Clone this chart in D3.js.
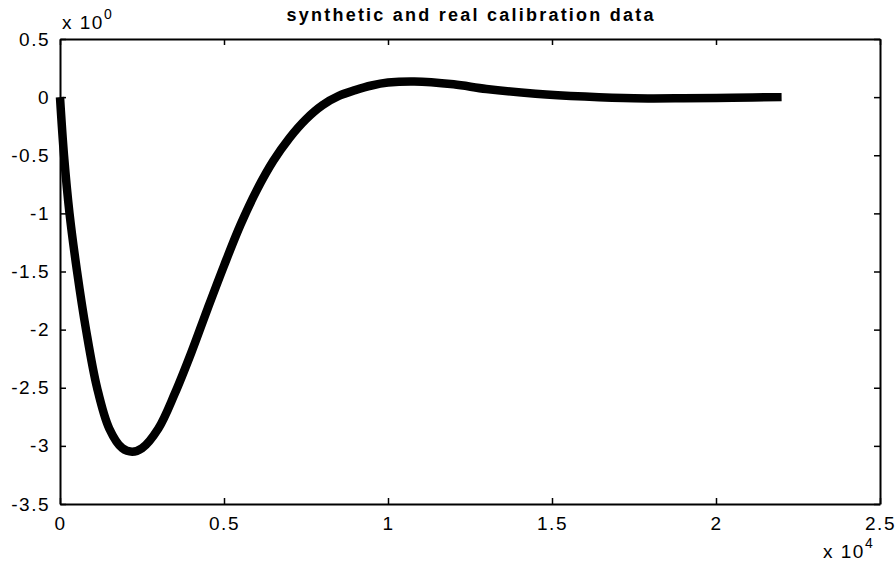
<!DOCTYPE html>
<html>
<head>
<meta charset="utf-8">
<script src="https://cdn.jsdelivr.net/npm/d3@7"></script>
<style>
  body { margin: 0; background: #fff; }
  svg text { font-family: Arial, "Liberation Sans", sans-serif; fill: #000; }
</style>
</head>
<body>
<div id="chart"></div>
<script>
// x values are in units of 10^4, y in units of 10^0
var xVals = [0, 0.0122, 0.029, 0.052, 0.0793, 0.113, 0.15, 0.19, 0.22, 0.25, 0.30,
             0.35, 0.40, 0.45, 0.50, 0.55, 0.60, 0.65, 0.70, 0.75, 0.80, 0.85,
             0.90, 0.95, 1.0, 1.08, 1.2, 1.3, 1.45, 1.6, 1.75, 1.9, 2.05, 2.2];
var yVals = [0, -0.5, -1.0, -1.5, -2.0, -2.5, -2.85, -3.02, -3.05, -3.02, -2.85,
             -2.55, -2.2, -1.82, -1.45, -1.1, -0.8, -0.55, -0.35, -0.19, -0.07, 0.01,
             0.06, 0.1, 0.125, 0.135, 0.11, 0.07, 0.03, 0.005, -0.01, -0.01, -0.005, 0];
var xTicks = [0, 0.5, 1, 1.5, 2, 2.5];
var yTicks = [0.5, 0, -0.5, -1, -1.5, -2, -2.5, -3, -3.5];
var title = "synthetic and real calibration data";

var W = 896, H = 564;
var margin = {top: 39, right: 16, bottom: 60, left: 60},
    width = W - margin.left - margin.right,
    height = H - margin.top - margin.bottom;

var svg = d3.select("#chart").append("svg")
    .attr("width", W).attr("height", H);

var x = d3.scaleLinear().domain([0, 2.5]).range([0, width]);
var y = d3.scaleLinear().domain([-3.5, 0.5]).range([height, 0]);

var g = svg.append("g")
    .attr("transform", "translate(" + margin.left + "," + margin.top + ")");

var fmt = function(d) { return String(d); };

// curve
var data = xVals.map(function(v, i) { return {x: v, y: yVals[i]}; });
var line = d3.line()
    .x(function(d) { return x(d.x); })
    .y(function(d) { return y(d.y); })
    .curve(d3.curveCatmullRom.alpha(0.5));

g.append("path")
    .datum(data)
    .attr("d", line)
    .attr("fill", "none")
    .attr("stroke", "#000")
    .attr("stroke-width", 8.5)
    .attr("stroke-linejoin", "round");

// axes, ticks inside like matlab
var tickLen = 6;
var axBottom = g.append("g").attr("transform", "translate(0," + height + ")")
    .call(d3.axisBottom(x).tickValues(xTicks).tickFormat(fmt).tickSizeInner(-tickLen).tickSizeOuter(0).tickPadding(12));
var axLeft = g.append("g")
    .call(d3.axisLeft(y).tickValues(yTicks).tickFormat(fmt).tickSizeInner(-tickLen).tickSizeOuter(0).tickPadding(10));
var axTop = g.append("g")
    .call(d3.axisTop(x).tickValues(xTicks).tickFormat("").tickSizeInner(-tickLen).tickSizeOuter(0));
var axRight = g.append("g").attr("transform", "translate(" + width + ",0)")
    .call(d3.axisRight(y).tickValues(yTicks).tickFormat("").tickSizeInner(-tickLen).tickSizeOuter(0));

[axBottom, axLeft, axTop, axRight].forEach(function(a) {
  a.select(".domain").attr("stroke", "#000").attr("stroke-width", 2);
  a.selectAll(".tick line").attr("stroke", "#000").attr("stroke-width", 1.5);
  a.selectAll("text")
    .style("font-size", "19px")
    .style("letter-spacing", "1.5px")
    .attr("fill", "#000");
});
axBottom.selectAll("text").attr("dy", "0.72em");

// title
svg.append("text")
    .attr("x", margin.left + width / 2)
    .attr("y", 21)
    .attr("text-anchor", "middle")
    .attr("textLength", 367)
    .attr("lengthAdjust", "spacing")
    .style("font-size", "18px")
    .style("font-weight", "bold")
    .text(title);

// exponent labels
var e0 = svg.append("text").attr("x", 62).attr("y", 29)
    .style("font-size", "19px").style("letter-spacing", "1.5px");
e0.append("tspan").text("x 10");
e0.append("tspan").attr("dy", -10).style("font-size", "14px").text("0");

var e4 = svg.append("text").attr("x", 823).attr("y", 558)
    .style("font-size", "19px").style("letter-spacing", "1.5px");
e4.append("tspan").text("x 10");
e4.append("tspan").attr("dy", -10).style("font-size", "14px").text("4");
</script>
</body>
</html>
